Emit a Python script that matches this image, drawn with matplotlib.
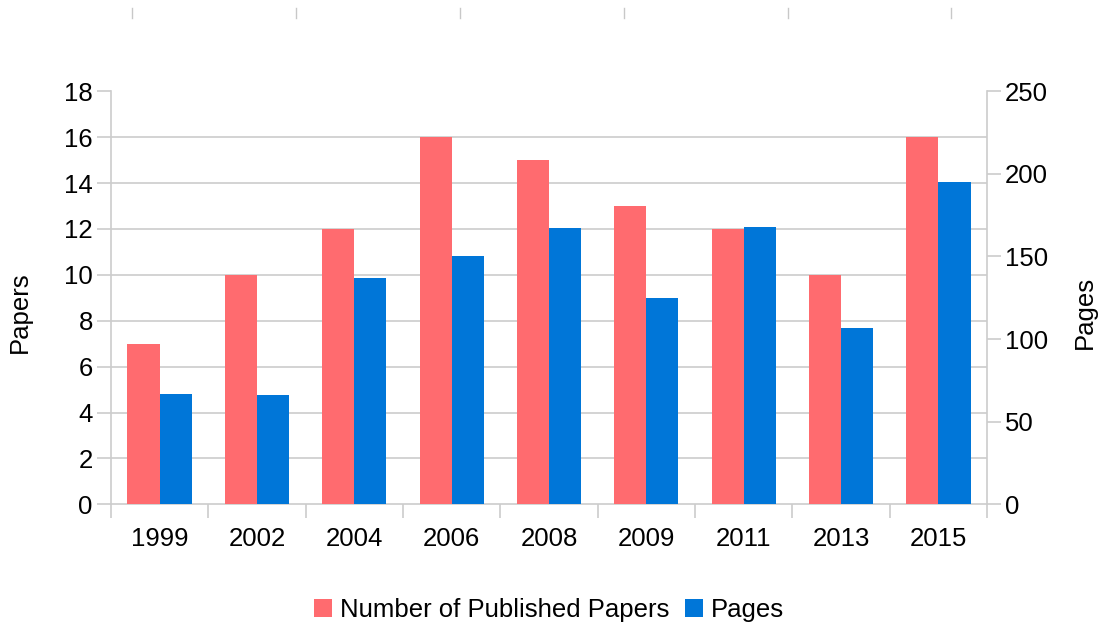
import numpy as np
import matplotlib.pyplot as plt
from matplotlib.lines import Line2D

years = ['1999', '2002', '2004', '2006', '2008', '2009', '2011', '2013', '2015']
papers = [7, 10, 12, 16, 15, 13, 12, 10, 16]
pages = [67, 66, 137, 150, 167, 125, 168, 107, 195]

red = '#ff6b6f'
blue = '#0076d8'
grid = '#cccccc'
fs = 18.5

plt.rcParams['font.family'] = ['Liberation Sans', 'DejaVu Sans']

fig = plt.figure(figsize=(10.98, 6.25), dpi=100)
ax = fig.add_axes([0.101, 0.193, 0.798, 0.661])
ax2 = ax.twinx()

x = np.arange(len(years))
w = 0.33
ax.bar(x - w / 2, papers, w, color=red, label='Number of Published Papers', zorder=3)
ax2.bar(x + w / 2, pages, w, color=blue, label='Pages', zorder=3)

ax.set_xlim(-0.5, len(years) - 0.5)
ax.set_ylim(0, 18)
ax2.set_ylim(0, 250)
ax.set_yticks(range(0, 19, 2))
ax2.set_yticks(range(0, 251, 50))

# grid only from the left scale, no line at the top
for v in range(2, 17, 2):
    ax.axhline(v, color=grid, lw=1.2, zorder=1)

for s in ['top', 'right']:
    ax.spines[s].set_visible(False)
for s in ['top', 'left', 'bottom']:
    ax2.spines[s].set_visible(False)
for sp in [ax.spines['left'], ax.spines['bottom'], ax2.spines['right']]:
    sp.set_color(grid)
    sp.set_linewidth(1.2)

ax.set_xticks(x)
ax.set_xticklabels(years)
ax.set_xticks(np.arange(-0.5, len(years), 1), minor=True)
ax.tick_params(axis='x', which='major', length=0, pad=16, labelsize=fs)
ax.tick_params(axis='x', which='minor', length=10, width=1.2, color=grid)
ax.tick_params(axis='y', length=10, width=1.2, color=grid, pad=3, labelsize=fs)
ax2.tick_params(axis='y', length=10, width=1.2, color=grid, pad=3, labelsize=fs)

fig.text(20 / 1098, 1 - 312 / 625, 'Papers', rotation=90, ha='center', va='center', fontsize=fs)
fig.text(1085 / 1098, 1 - 312 / 625, 'Pages', rotation=90, ha='center', va='center', fontsize=fs)

h1, l1 = ax.get_legend_handles_labels()
h2, l2 = ax2.get_legend_handles_labels()
fig.legend(h1 + h2, l1 + l2, loc='center', bbox_to_anchor=(0.5, 0.024), ncol=2,
           frameon=False, fontsize=fs, handlelength=0.7, handleheight=0.7,
           handletextpad=0.3, columnspacing=0.6)

# faint marks along the top edge
for px in [132, 296, 460, 624, 788, 951]:
    fig.add_artist(Line2D([px / 1098, px / 1098], [1 - 8 / 625, 1 - 18 / 625],
                          color='#c8c8c8', lw=1))

fig.savefig('out.png', dpi=100)
